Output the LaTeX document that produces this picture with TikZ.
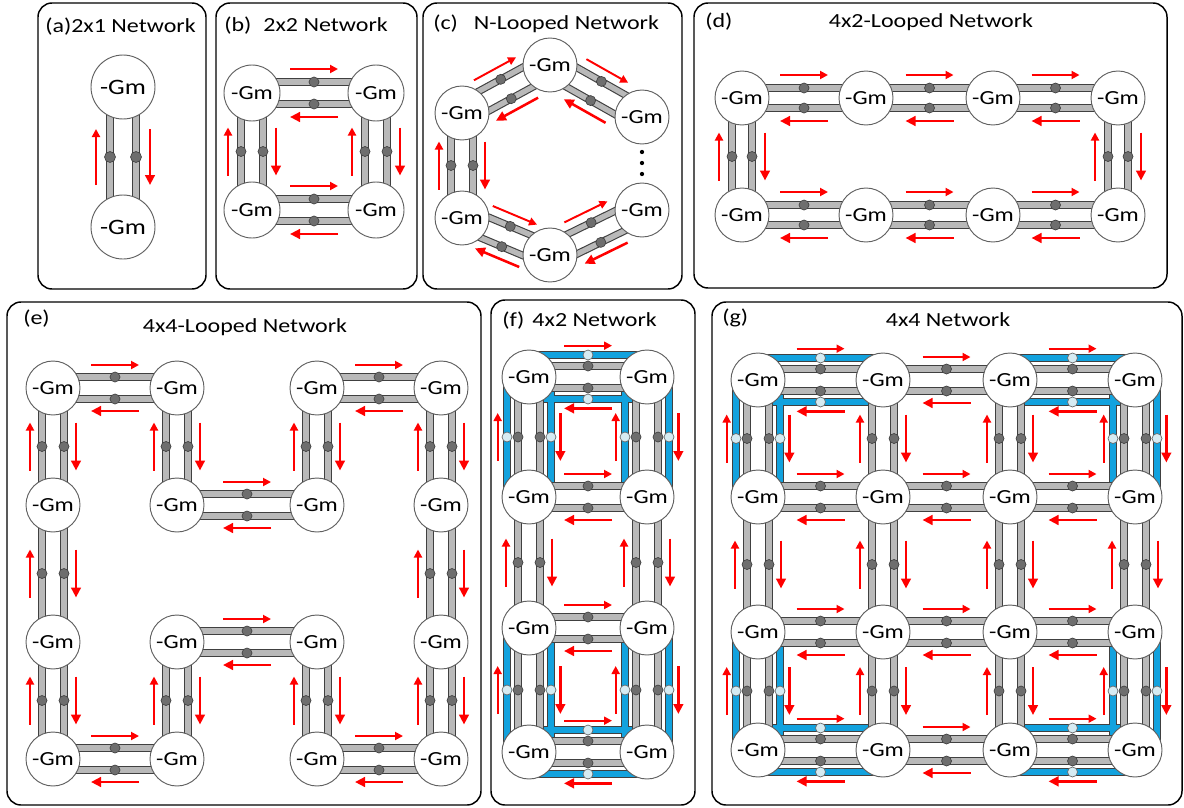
\documentclass[tikz,border=0pt]{standalone}
\usepackage{fontspec}
\setmainfont{Carlito}[FakeStretch=1.2]
\usetikzlibrary{calc,arrows.meta}
\pgfdeclarelayer{bgb}\pgfdeclarelayer{bgc}\pgfdeclarelayer{bg}
\pgfsetlayers{bgb,bgc,bg,main}
\definecolor{barfill}{HTML}{B9B9B9}
\definecolor{barline}{HTML}{404040}
\definecolor{dotfill}{HTML}{6E6E6E}
\definecolor{bluel}{HTML}{12A2DE}
\definecolor{lbdot}{HTML}{D6EBF2}
\definecolor{nodeline}{HTML}{606060}
\tikzset{
 gm/.style={circle, draw=nodeline, line width=0.7pt, fill=white, inner sep=0pt, minimum size=40.5pt, font=\fontsize{15pt}{17pt}\selectfont},
 bar/.style={draw=barline, line width=0.85pt, double=barfill, double distance=4pt},
 bdot/.style={fill=dotfill, draw=barline, line width=0.5pt},
 ldot/.style={fill=lbdot, draw=barline!80, line width=0.5pt},
 arrs/.style={red, line width=1.45pt, -{Triangle[length=6pt,width=6pt]}},
 arrb/.style={red, line width=1.9pt, -{Triangle[length=7.5pt,width=7.2pt]}},
 panel/.style={draw=black, line width=1.1pt, rounded corners=10.5pt},
 ttl/.style={font=\fontsize{15pt}{17pt}\selectfont, inner sep=0pt},
}
\def\bo{8.25pt}\def\ao{17.25pt}\def\al{18pt}\def\blo{16.5pt}\def\dr{3.75pt}
\newcommand\lnk[4]{%
 \path ($(#1.center)!\bo!90:(#2.center)$) coordinate (p1)
       ($(#2.center)!\bo!-90:(#1.center)$) coordinate (p2)
       ($(#1.center)!\bo!-90:(#2.center)$) coordinate (q1)
       ($(#2.center)!\bo!90:(#1.center)$) coordinate (q2)
       ($(#1.center)!0.5!(#2.center)$) coordinate (m);
 \path ($(m)!\al!(#2.center)$) coordinate (mf)
       ($(m)!\al!(#1.center)$) coordinate (mb);
 \begin{pgfonlayer}{bg}
 \draw[bar] (p1) -- (p2);
 \draw[bar] (q1) -- (q2);
 \draw[bdot] ($(p1)!0.5!(p2)$) circle[radius=\dr];
 \draw[bdot] ($(q1)!0.5!(q2)$) circle[radius=\dr];
 \draw[#3] ($(mb)!\ao!90:(#2.center)$) -- ($(mf)!\ao!90:(#2.center)$);
 \draw[#4] ($(mf)!\ao!-90:(#2.center)$) -- ($(mb)!\ao!-90:(#2.center)$);
 \end{pgfonlayer}}
\newcommand\hlnk[2]{\lnk{#1}{#2}{arrs}{arrb}}
\newcommand\vlnk[2]{\lnk{#1}{#2}{arrb}{arrs}}
\newcommand\blu[2]{%
 \path ($(#1.center)!\blo!90:(#2.center)$) coordinate (u1)
       ($(#2.center)!\blo!-90:(#1.center)$) coordinate (u2)
       ($(#1.center)!\blo!-90:(#2.center)$) coordinate (v1)
       ($(#2.center)!\blo!90:(#1.center)$) coordinate (v2);
 \begin{pgfonlayer}{bgb}
 \draw[barline, line width=5.4pt] (u1)--(u2) (v1)--(v2);
 \end{pgfonlayer}
 \begin{pgfonlayer}{bgc}
 \draw[bluel, line width=3.8pt] (u1)--(u2) (v1)--(v2);
 \end{pgfonlayer}
 \begin{pgfonlayer}{bg}
 \draw[ldot] ($(u1)!0.5!(u2)$) circle[radius=\dr] ($(v1)!0.5!(v2)$) circle[radius=\dr];
 \end{pgfonlayer}}
\newcommand\bhlnk[2]{\blu{#1}{#2}{\def\ao{23.5pt}\hlnk{#1}{#2}}}
\newcommand\bvlnk[2]{\blu{#1}{#2}{\def\ao{23.5pt}\vlnk{#1}{#2}}}
\begin{document}
\begin{tikzpicture}[x=0.75pt,y=-0.75pt]
\useasboundingbox (0,0) rectangle (1184,807);
% panels
\draw[panel] (38,3) rectangle (206,289);
\draw[panel] (216,3) rectangle (417,289);
\draw[panel] (423,3) rectangle (682,289);
\draw[panel] (694,3) rectangle (1167,288);
\draw[panel] (7,302) rectangle (481,805);
\draw[panel] (491,300) rectangle (695,805);
\draw[panel] (712,302) rectangle (1182,805);
% titles
\node[ttl,anchor=base west] (ta) at (45,32) {(a)2x1 Network};
\node[ttl,anchor=base west] (tb) at (224,31) {(b)\hspace{9pt}2x2 Network};
\node[ttl,anchor=base west] (tc) at (433,29) {(c)\hspace{12pt}N-Looped Network};
\node[ttl,anchor=base west] (td) at (705,27) {(d)};
\node[ttl,anchor=base] (td2) at (931,27) {4x2-Looped Network};
\node[ttl,anchor=base west] (te) at (23,324) {(e)};
\node[ttl,anchor=base] (te2) at (245,332) {4x4-Looped Network};
\node[ttl,anchor=base west] (tf) at (502,326) {(f)\hspace{6pt}4x2 Network};
\node[ttl,anchor=base west] (tg) at (722,323) {(g)};
\node[ttl,anchor=base] (tg2) at (948,326) {4x4 Network};
% (a)
\node[gm,minimum size=48pt,font=\fontsize{16.5pt}{18pt}\selectfont] (a1) at (123,87) {-Gm};
\node[gm,minimum size=48pt,font=\fontsize{16.5pt}{18pt}\selectfont] (a2) at (123,227) {-Gm};
{\def\bo{9.75pt}\def\ao{20.25pt}\def\al{21pt}\def\dr{4.1pt}\vlnk{a1}{a2}}
% (b)
\node[gm,minimum size=42pt] (b11) at (252,93) {-Gm};
\node[gm,minimum size=42pt] (b12) at (376,93) {-Gm};
\node[gm,minimum size=42pt] (b21) at (252,210) {-Gm};
\node[gm,minimum size=42pt] (b22) at (376,210) {-Gm};
{\def\ao{18pt}
\hlnk{b11}{b12}\hlnk{b21}{b22}\vlnk{b11}{b21}\vlnk{b12}{b22}}
% (c)
\node[gm] (ct) at (550,65) {-Gm};
\node[gm] (cul) at (462,113) {-Gm};
\node[gm] (cur) at (642,117) {-Gm};
\node[gm] (cll) at (462,218) {-Gm};
\node[gm] (cb) at (550,255) {-Gm};
\node[gm] (clr) at (642,210) {-Gm};
\lnk{ct}{cur}{arrs}{arrb}
\lnk{clr}{cb}{arrb}{arrs}
\lnk{cb}{cll}{arrb}{arrs}
\lnk{cll}{cul}{arrs}{arrb}
\lnk{cul}{ct}{arrs}{arrb}
\fill (642,152) circle[radius=1.6pt] (642,163) circle[radius=1.6pt] (642,174) circle[radius=1.6pt];
% (d)
\foreach \i/\y in {1/98,2/215}{\foreach \j/\x in {1/742,2/866,3/993,4/1118}{\node[gm] (d\i\j) at (\x,\y) {-Gm};}}
{\def\bo{7.5pt}
\hlnk{d11}{d12}\hlnk{d12}{d13}\hlnk{d13}{d14}
\hlnk{d21}{d22}\hlnk{d22}{d23}\hlnk{d23}{d24}
\vlnk{d11}{d21}\vlnk{d14}{d24}}
% (e)
\foreach \i/\y in {1/388,2/505,3/642,4/759}{\foreach \j/\x in {1/53,2/177,3/317,4/441}{\node[gm] (e\i\j) at (\x,\y) {-Gm};}}
\hlnk{e11}{e12}\hlnk{e22}{e23}\hlnk{e13}{e14}
\hlnk{e32}{e33}\hlnk{e41}{e42}\hlnk{e43}{e44}
\vlnk{e11}{e21}\vlnk{e21}{e31}\vlnk{e31}{e41}
\vlnk{e12}{e22}\vlnk{e13}{e23}
\vlnk{e14}{e24}\vlnk{e24}{e34}\vlnk{e34}{e44}
\vlnk{e32}{e42}\vlnk{e33}{e43}
% (f)
\foreach \i/\y in {1/377,2/497,3/628,4/752}{\foreach \j/\x in {1/529,2/647}{\node[gm] (f\i\j) at (\x,\y) {-Gm};}}
\bhlnk{f11}{f12}\hlnk{f21}{f22}\hlnk{f31}{f32}\bhlnk{f41}{f42}
\bvlnk{f11}{f21}\vlnk{f21}{f31}\bvlnk{f31}{f41}
\bvlnk{f12}{f22}\vlnk{f22}{f32}\bvlnk{f32}{f42}
% (g)
\foreach \i/\y in {1/380,2/497,3/632,4/750}{\foreach \j/\x in {1/758,2/883,3/1010,4/1135}{\node[gm] (g\i\j) at (\x,\y) {-Gm};}}
\bhlnk{g11}{g12}\hlnk{g12}{g13}\bhlnk{g13}{g14}
\hlnk{g21}{g22}\hlnk{g22}{g23}\hlnk{g23}{g24}
\hlnk{g31}{g32}\hlnk{g32}{g33}\hlnk{g33}{g34}
\bhlnk{g41}{g42}\hlnk{g42}{g43}\bhlnk{g43}{g44}
\bvlnk{g11}{g21}\vlnk{g21}{g31}\bvlnk{g31}{g41}
\vlnk{g12}{g22}\vlnk{g22}{g32}\vlnk{g32}{g42}
\vlnk{g13}{g23}\vlnk{g23}{g33}\vlnk{g33}{g43}
\bvlnk{g14}{g24}\vlnk{g24}{g34}\bvlnk{g34}{g44}
\end{tikzpicture}
\end{document}
